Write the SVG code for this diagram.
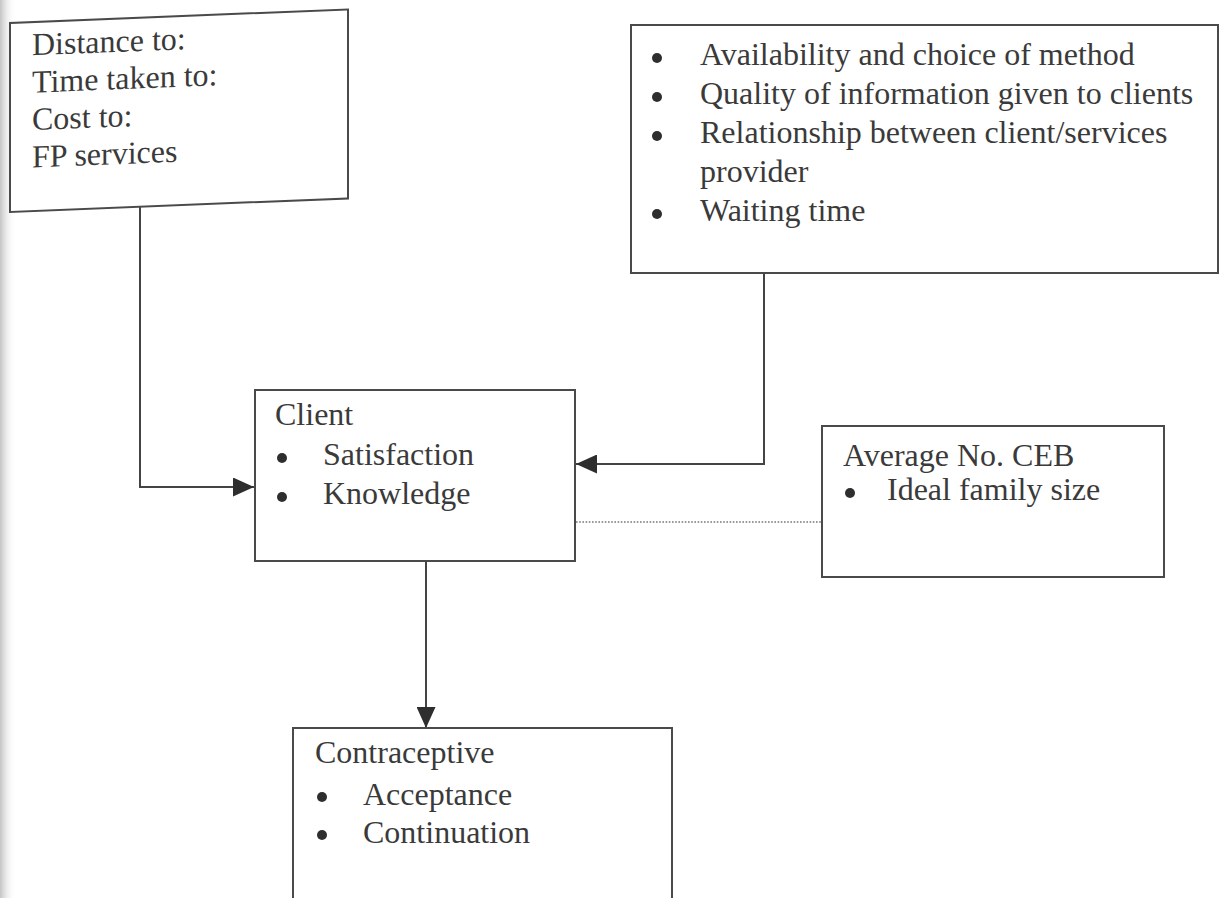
<svg xmlns="http://www.w3.org/2000/svg" width="1220" height="898" viewBox="0 0 1220 898">
  <defs>
    <linearGradient id="edge" x1="0" y1="0" x2="1" y2="0">
      <stop offset="0" stop-color="#c4c4c4"/>
      <stop offset="1" stop-color="#ffffff" stop-opacity="0"/>
    </linearGradient>
    <marker id="arrow" viewBox="0 0 21 19" refX="21" refY="9.5" markerWidth="21" markerHeight="19" markerUnits="userSpaceOnUse" orient="auto">
      <path d="M0,0 L21,9.5 L0,19 Z" fill="#2e2e2e"/>
    </marker>
  </defs>
  <style>
    .box { fill: #ffffff; stroke: #4a4a4a; stroke-width: 2; }
    .t { font-family: "Liberation Serif", "Times New Roman", serif; font-size: 32px; fill: #3a3a3a; }
    .dot { fill: #2e2e2e; }
    .conn { fill: none; stroke: #444444; stroke-width: 2; }
    .dotted { fill: none; stroke: #777777; stroke-width: 1.6; stroke-dasharray: 1.6 1.6; }
  </style>
  <rect x="0" y="0" width="1220" height="898" fill="#ffffff"/>
  <rect x="0" y="0" width="16" height="898" fill="url(#edge)"/>

  <g id="connectors">
    <polyline class="conn" points="140,206 140,487 254,487" marker-end="url(#arrow)"/>
    <polyline class="conn" points="764,274 764,464 576,464" marker-end="url(#arrow)"/>
    <line class="conn" x1="426" y1="561" x2="426" y2="728" marker-end="url(#arrow)"/>
    <line class="dotted" x1="576" y1="522" x2="821" y2="522"/>
  </g>

  <g id="access" transform="skewY(-2.3)">
    <rect class="box" x="10" y="23.4" width="338" height="189"/>
    <text class="t" x="32" y="56.6">Distance to:</text>
    <text class="t" x="32" y="94">Time taken to:</text>
    <text class="t" x="32" y="131.4">Cost to:</text>
    <text class="t" x="32" y="168.8">FP services</text>
  </g>

  <g id="quality">
    <rect class="box" x="631" y="25" width="587" height="248"/>
    <circle class="dot" cx="657" cy="58" r="5"/>
    <text class="t" x="700" y="65">Availability and choice of method</text>
    <circle class="dot" cx="657" cy="97" r="5"/>
    <text class="t" x="700" y="104">Quality of information given to clients</text>
    <circle class="dot" cx="657" cy="136" r="5"/>
    <text class="t" x="700" y="143">Relationship between client/services</text>
    <text class="t" x="700" y="182">provider</text>
    <circle class="dot" cx="657" cy="214" r="5"/>
    <text class="t" x="700" y="221">Waiting time</text>
  </g>

  <g id="client">
    <rect class="box" x="255" y="390" width="320" height="171"/>
    <text class="t" x="275" y="425">Client</text>
    <circle class="dot" cx="282" cy="458" r="5"/>
    <text class="t" x="323" y="465">Satisfaction</text>
    <circle class="dot" cx="282" cy="497" r="5"/>
    <text class="t" x="323" y="504">Knowledge</text>
  </g>

  <g id="ceb">
    <rect class="box" x="822" y="426" width="342" height="151"/>
    <text class="t" x="843" y="466">Average No. CEB</text>
    <circle class="dot" cx="850" cy="493" r="5"/>
    <text class="t" x="887" y="500">Ideal family size</text>
  </g>

  <g id="contraceptive">
    <rect class="box" x="293" y="728" width="379" height="200"/>
    <text class="t" x="315" y="763">Contraceptive</text>
    <circle class="dot" cx="322" cy="797" r="5"/>
    <text class="t" x="363" y="805">Acceptance</text>
    <circle class="dot" cx="322" cy="835" r="5"/>
    <text class="t" x="363" y="843">Continuation</text>
  </g>
</svg>
